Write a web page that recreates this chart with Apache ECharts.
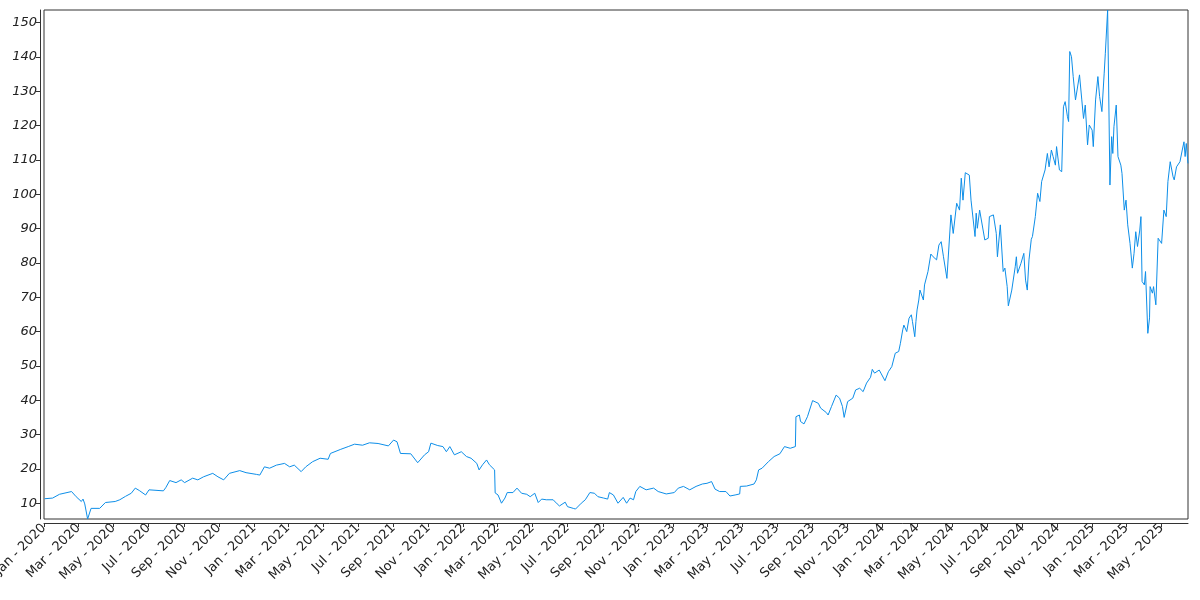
<!DOCTYPE html>
<html>
<head>
<meta charset="utf-8">
<script src="https://cdn.jsdelivr.net/npm/echarts@6/dist/echarts.min.js"></script>
<style>html,body{margin:0;padding:0;background:#fff}#c{width:1200px;height:600px}</style>
</head>
<body>
<div id="c"></div>
<script>
const dates = [
'2020-01-02','2020-01-16','2020-01-28','2020-02-18','2020-02-26','2020-03-06','2020-03-09','2020-03-12','2020-03-17','2020-03-23',
'2020-03-26','2020-04-07','2020-04-17','2020-05-04','2020-05-12','2020-05-22','2020-06-01','2020-06-08','2020-06-15','2020-06-26',
'2020-07-02','2020-07-27','2020-07-31','2020-08-07','2020-08-18','2020-08-27','2020-09-02','2020-09-16','2020-09-25','2020-10-05',
'2020-10-21','2020-10-30','2020-11-09','2020-11-19','2020-12-07','2020-12-18','2021-01-05','2021-01-11','2021-01-19','2021-01-28',
'2021-02-09','2021-02-23','2021-03-04','2021-03-12','2021-03-24','2021-04-01','2021-04-13','2021-04-26','2021-05-10','2021-05-14',
'2021-06-01','2021-06-14','2021-06-25','2021-07-09','2021-07-21','2021-08-05','2021-08-23','2021-09-01','2021-09-07','2021-09-13',
'2021-10-01','2021-10-13','2021-10-25','2021-11-01','2021-11-05','2021-11-17','2021-11-26','2021-12-02','2021-12-08','2021-12-16',
'2021-12-28','2022-01-06','2022-01-14','2022-01-24','2022-01-28','2022-02-03','2022-02-10','2022-02-15','2022-02-18','2022-02-24',
'2022-02-25','2022-03-02','2022-03-08','2022-03-14','2022-03-18','2022-03-28','2022-04-04','2022-04-12','2022-04-21','2022-04-27',
'2022-05-05','2022-05-11','2022-05-17','2022-05-25','2022-06-06','2022-06-13','2022-06-17','2022-06-27','2022-07-01','2022-07-11',
'2022-07-15','2022-07-25','2022-08-01','2022-08-09','2022-08-17','2022-08-23','2022-09-02','2022-09-09','2022-09-12','2022-09-19',
'2022-09-27','2022-09-30','2022-10-06','2022-10-12','2022-10-18','2022-10-24','2022-10-28','2022-11-04','2022-11-15','2022-11-28',
'2022-12-06','2022-12-20','2023-01-03','2023-01-10','2023-01-19','2023-01-30','2023-02-10','2023-02-21','2023-03-01','2023-03-09',
'2023-03-15','2023-03-23','2023-04-03','2023-04-10','2023-04-19','2023-04-27','2023-04-28','2023-05-09','2023-05-22','2023-05-26',
'2023-05-30','2023-06-05','2023-06-16','2023-06-26','2023-07-06','2023-07-14','2023-07-24','2023-08-02','2023-08-03','2023-08-09',
'2023-08-11','2023-08-17','2023-08-23','2023-09-01','2023-09-11','2023-09-15','2023-09-25','2023-09-28','2023-10-04','2023-10-12',
'2023-10-18','2023-10-23','2023-10-26','2023-11-01','2023-11-10','2023-11-15','2023-11-22','2023-11-28','2023-12-04','2023-12-11',
'2023-12-14','2023-12-18','2023-12-26','2023-12-29','2024-01-05','2024-01-11','2024-01-17','2024-01-23','2024-01-29','2024-02-01',
'2024-02-05','2024-02-07','2024-02-12','2024-02-16','2024-02-20','2024-02-22','2024-02-26','2024-02-28','2024-03-01','2024-03-04',
'2024-03-06','2024-03-12','2024-03-14','2024-03-20','2024-03-25','2024-03-29','2024-04-04','2024-04-08','2024-04-12','2024-04-16',
'2024-04-22','2024-04-24','2024-04-29','2024-05-03','2024-05-09','2024-05-14','2024-05-17','2024-05-20','2024-05-24','2024-05-31',
'2024-06-03','2024-06-10','2024-06-12','2024-06-14','2024-06-18','2024-06-24','2024-06-27','2024-07-03','2024-07-05','2024-07-12',
'2024-07-17','2024-07-19','2024-07-24','2024-07-29','2024-08-01','2024-08-05','2024-08-07','2024-08-13','2024-08-19','2024-08-21',
'2024-08-23','2024-08-29','2024-09-03','2024-09-06','2024-09-09','2024-09-12','2024-09-16','2024-09-18','2024-09-23','2024-09-27',
'2024-10-01','2024-10-04','2024-10-10','2024-10-14','2024-10-17','2024-10-21','2024-10-24','2024-10-28','2024-10-30','2024-11-04',
'2024-11-08','2024-11-11','2024-11-14','2024-11-18','2024-11-20','2024-11-22','2024-11-25','2024-11-28','2024-12-02','2024-12-05',
'2024-12-09','2024-12-13','2024-12-16','2024-12-19','2024-12-23','2024-12-26','2024-12-31','2025-01-02','2025-01-06','2025-01-10',
'2025-01-13','2025-01-17','2025-01-21','2025-01-23','2025-01-27','2025-01-31','2025-02-03','2025-02-05','2025-02-07','2025-02-11',
'2025-02-14','2025-02-19','2025-02-21','2025-02-25','2025-02-28','2025-03-03','2025-03-07','2025-03-11','2025-03-14','2025-03-17',
'2025-03-20','2025-03-24','2025-03-26','2025-03-28','2025-04-01','2025-04-03','2025-04-07','2025-04-10','2025-04-11','2025-04-15',
'2025-04-17','2025-04-21','2025-04-25','2025-05-01','2025-05-05','2025-05-08','2025-05-09','2025-05-12','2025-05-16','2025-05-21',
'2025-05-23','2025-05-27','2025-06-02','2025-06-06','2025-06-09','2025-06-11','2025-06-13','2025-06-16'
];
const values = [
11.3,11.5,12.6,13.4,11.9,10.5,11.2,9.8,5.4,8.5,
8.0,8.5,10.2,10.5,11.0,12.0,12.9,14.4,13.7,12.4,
13.9,13.6,14.5,16.6,16.0,16.8,16.0,17.3,16.8,17.7,
18.7,17.7,16.8,18.7,19.5,18.9,18.4,18.2,20.6,20.2,
21.1,21.6,20.6,21.1,19.2,20.6,22.1,23.1,22.8,24.5,
25.7,26.5,27.2,26.9,27.6,27.4,26.7,28.4,27.9,24.5,
24.4,21.8,24.1,25.0,27.5,26.8,26.5,25.0,26.5,24.1,
25.0,23.6,23.1,21.6,19.7,21.2,22.6,21.2,21.6,19.7,
13.0,12.4,10.0,11.5,13.1,13.1,14.4,12.9,12.6,11.9,
12.9,10.2,11.2,11.0,11.0,9.8,9.2,10.3,9.0,8.5,
8.3,10.0,11.0,13.1,12.9,11.9,11.5,11.2,13.1,12.4,
10.0,9.8,11.7,10.0,11.5,11.0,13.4,14.9,13.9,14.4,
13.4,12.7,13.1,14.4,14.9,13.9,14.9,15.6,15.8,16.3,
14.1,13.4,13.4,12.1,12.4,12.7,14.9,15.0,15.6,16.8,
19.7,20.2,22.1,23.6,24.4,26.5,26.0,26.5,35.2,35.7,
33.8,33.1,35.2,39.9,39.1,37.7,36.4,35.7,38.2,41.5,
40.6,38.2,35.0,39.6,40.6,43.0,43.5,42.5,45.0,46.7,
49.0,47.9,48.8,47.9,45.7,48.3,49.8,53.7,54.2,56.6,
60.5,61.9,60.0,63.9,64.9,62.9,58.5,62.9,66.3,69.2,
72.1,69.2,73.6,77.5,82.6,81.8,80.9,85.2,86.2,81.8,
75.5,76.0,94.0,88.6,97.4,95.4,104.7,98.3,106.3,105.6,
98.3,87.7,94.5,90.1,95.4,89.6,86.7,87.2,93.5,94.0,
88.6,81.8,91.1,77.5,78.5,73.1,67.5,72.1,78.9,81.8,
77.0,79.9,82.8,75.0,72.1,80.9,86.9,87.7,93.5,100.3,
97.9,103.7,107.1,111.9,108.0,112.9,111.0,108.5,113.9,107.1,
106.6,125.5,127.0,122.6,121.2,141.6,140.1,134.3,127.5,128.0,
134.8,127.5,122.1,126.0,114.4,120.2,118.7,113.9,127.5,134.3,
128.5,124.1,135.3,141.1,153.7,102.7,116.8,111.9,119.7,126.0,
111.0,108.5,106.1,95.4,98.3,91.1,85.7,78.5,82.8,89.1,
84.8,89.6,93.5,74.6,73.6,77.5,59.5,64.0,73.1,71.2,
73.1,67.8,87.2,85.7,95.4,95.9,93.5,103.7,109.5,105.1,
104.2,108.0,109.5,112.9,115.3,111.0,114.8,109.0
];
const yTickValues = [10,20,30,40,50,60,70,80,90,100,110,120,130,140,150];
const monthNames = ['Jan','Feb','Mar','Apr','May','Jun','Jul','Aug','Sep','Oct','Nov','Dec'];
const xTickMonths = [];
for (let y = 2020; y <= 2025; y++) for (let m = 0; m < 12; m += 2) xTickMonths.push([y, m]);

function toTs(s) { const p = s.split('-').map(Number); return Date.UTC(p[0], p[1] - 1, p[2]); }
const xMin = Date.UTC(2020, 0, 1);
const xMax = toTs(dates[dates.length - 1]);
const xTicks = xTickMonths.map(([y, m]) => Date.UTC(y, m, 1)).filter(t => t >= xMin && t <= xMax);

const chart = echarts.init(document.getElementById('c'), null, {renderer: 'canvas'});
chart.setOption({
  animation: false,
  backgroundColor: '#ffffff',
  grid: {left: 44, top: 10, width: 1144, height: 509, containLabel: false, outerBoundsMode: 'none',
         show: true, borderColor: '#333333', borderWidth: 1, backgroundColor: 'transparent'},
  xAxis: {
    type: 'value', min: xMin, max: xMax, offset: 4, scale: true,
    axisLine: {show: true, onZero: false, lineStyle: {color: '#333333', width: 1}},
    axisTick: {show: true, length: 4, customValues: xTicks, lineStyle: {color: '#333333'}},
    splitLine: {show: false},
    axisLabel: {
      customValues: xTicks, rotate: 45, margin: 3, fontSize: 13, color: '#222222', fontFamily: 'DejaVu Sans',
      hideOverlap: false, showMinLabel: true, showMaxLabel: true,
      formatter: function (v) { const d = new Date(v); return monthNames[d.getUTCMonth()] + ' - ' + d.getUTCFullYear(); }
    }
  },
  yAxis: {
    type: 'value', min: 'dataMin', max: 'dataMax', offset: 4, scale: true,
    axisLine: {show: true, onZero: false, lineStyle: {color: '#333333', width: 1}},
    axisTick: {show: true, length: 4, customValues: yTickValues, lineStyle: {color: '#333333'}},
    splitLine: {show: false},
    axisLabel: {customValues: yTickValues, margin: 3, fontSize: 13, fontStyle: 'italic', color: '#222222', fontFamily: 'DejaVu Sans'}
  },
  series: [{
    type: 'line', showSymbol: false, symbol: 'none',
    data: dates.map((d, i) => [toTs(d), values[i]]),
    lineStyle: {color: '#0d8ee8', width: 1},
    emphasis: {disabled: true}
  }]
});
</script>
</body>
</html>
